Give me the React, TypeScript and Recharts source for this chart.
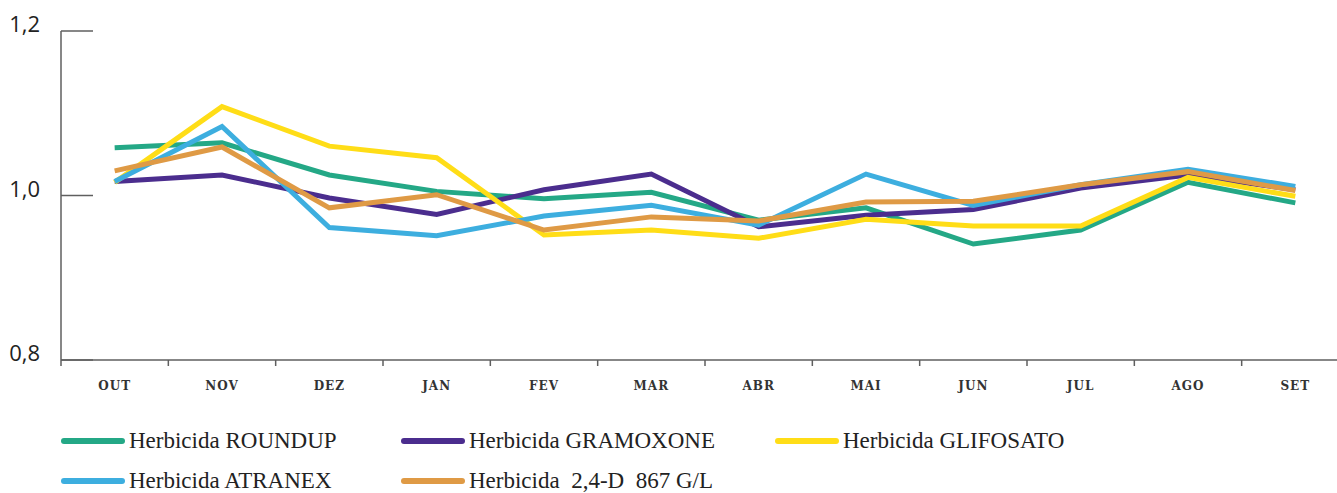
import React from 'react';
import { LineChart, Line, XAxis, YAxis } from 'recharts';

const months = ['OUT', 'NOV', 'DEZ', 'JAN', 'FEV', 'MAR', 'ABR', 'MAI', 'JUN', 'JUL', 'AGO', 'SET'];
const roundup = [1.058, 1.064, 1.025, 1.005, 0.996, 1.004, 0.97, 0.985, 0.941, 0.958, 1.016, 0.991];
const gramoxone = [1.017, 1.025, 0.997, 0.977, 1.007, 1.026, 0.962, 0.976, 0.983, 1.009, 1.025, 1.007];
const glifosato = [1.016, 1.108, 1.06, 1.046, 0.952, 0.958, 0.948, 0.971, 0.963, 0.963, 1.022, 0.999];
const atranex = [1.017, 1.084, 0.961, 0.951, 0.975, 0.988, 0.964, 1.026, 0.988, 1.013, 1.032, 1.011];
const d24 = [1.03, 1.059, 0.985, 1.001, 0.958, 0.974, 0.969, 0.992, 0.993, 1.013, 1.029, 1.006];
const yTicks = [0.8, 1.0, 1.2];

const seriesKeys = ['roundup', 'gramoxone', 'glifosato', 'atranex', 'd24'];
const seriesNames = [
  'Herbicida ROUNDUP',
  'Herbicida GRAMOXONE',
  'Herbicida GLIFOSATO',
  'Herbicida ATRANEX',
  'Herbicida  2,4-D  867 G/L',
];
const seriesValues = [roundup, gramoxone, glifosato, atranex, d24];

const palette = ['#24A886', '#4B2D8E', '#FFDD17', '#3DAEDF', '#DF9A45'];

const data = months.map((m, i) => {
  const row: Record<string, string | number> = { m };
  seriesKeys.forEach((k, s) => {
    row[k] = seriesValues[s][i];
  });
  return row;
});

const CHART_W = 1349;
const PLOT_LEFT = 61;
const PLOT_W = CHART_W - PLOT_LEFT;
const BAND = PLOT_W / months.length;

const AXIS_COLOR = '#5f5f5f';

const XTick = (props: any) => {
  const { x, y, payload } = props;
  return (
    <g>
      <line x1={x - BAND / 2} x2={x - BAND / 2} y1={y} y2={y + 6} stroke={AXIS_COLOR} strokeWidth={1.5} />
      <text
        x={x}
        y={y + 29.5}
        textAnchor="middle"
        fontFamily="'DejaVu Serif', serif"
        fontWeight="bold"
        fontSize={12}
        letterSpacing={1}
        fill="#333"
      >
        {payload.value}
      </text>
    </g>
  );
};

const YTick = (props: any) => {
  const { x, y, payload } = props;
  return (
    <g>
      <line x1={x} x2={x + 32} y1={y} y2={y} stroke={AXIS_COLOR} strokeWidth={1.5} />
      <text
        x={x - 21}
        y={y + 1}
        textAnchor="end"
        fontFamily="'Open Sans', sans-serif"
        fontSize={22}
        fill="#222"
      >
        {Number(payload.value).toFixed(1).replace('.', ',')}
      </text>
    </g>
  );
};

const legendLayout = [
  { left: 61, top: 441 },
  { left: 401, top: 441 },
  { left: 775, top: 441 },
  { left: 61, top: 481 },
  { left: 401, top: 481 },
];

export default function App() {
  return (
    <div
      style={{
        position: 'absolute',
        left: 0,
        top: 0,
        width: 1337,
        height: 493,
        overflow: 'hidden',
        background: '#fff',
      }}
    >
      <LineChart
        width={CHART_W}
        height={400}
        data={data}
        margin={{ top: 31, right: 0, bottom: 0, left: 0 }}
      >
        <XAxis
          dataKey="m"
          height={40}
          padding={{ left: BAND / 2, right: BAND / 2 }}
          axisLine={{ stroke: AXIS_COLOR, strokeWidth: 1.5 }}
          tickLine={false}
          tickSize={0}
          tickMargin={0}
          tick={<XTick />}
          interval={0}
        />
        <YAxis
          width={61}
          domain={[0.8, 1.2]}
          ticks={yTicks}
          axisLine={{ stroke: AXIS_COLOR, strokeWidth: 1.5 }}
          tickLine={false}
          tickSize={0}
          tickMargin={0}
          tick={<YTick />}
          interval={0}
        />
        {seriesKeys.map((k, i) => (
          <Line
            key={k}
            dataKey={k}
            name={seriesNames[i]}
            stroke={palette[i]}
            strokeWidth={5}
            dot={false}
            activeDot={false}
            type="linear"
            isAnimationActive={false}
          />
        ))}
      </LineChart>
      {seriesNames.map((n, i) => (
        <div
          key={n}
          style={{
            position: 'absolute',
            left: legendLayout[i].left,
            top: legendLayout[i].top - 15,
            height: 30,
            display: 'flex',
            alignItems: 'center',
            whiteSpace: 'pre',
          }}
        >
          <div
            style={{
              width: 64,
              height: 6,
              borderRadius: 3,
              background: palette[i],
              marginRight: 4,
            }}
          />
          <span
            style={{
              fontFamily: "'Liberation Serif', serif",
              fontSize: 23,
              color: '#222',
            }}
          >
            {n}
          </span>
        </div>
      ))}
    </div>
  );
}
